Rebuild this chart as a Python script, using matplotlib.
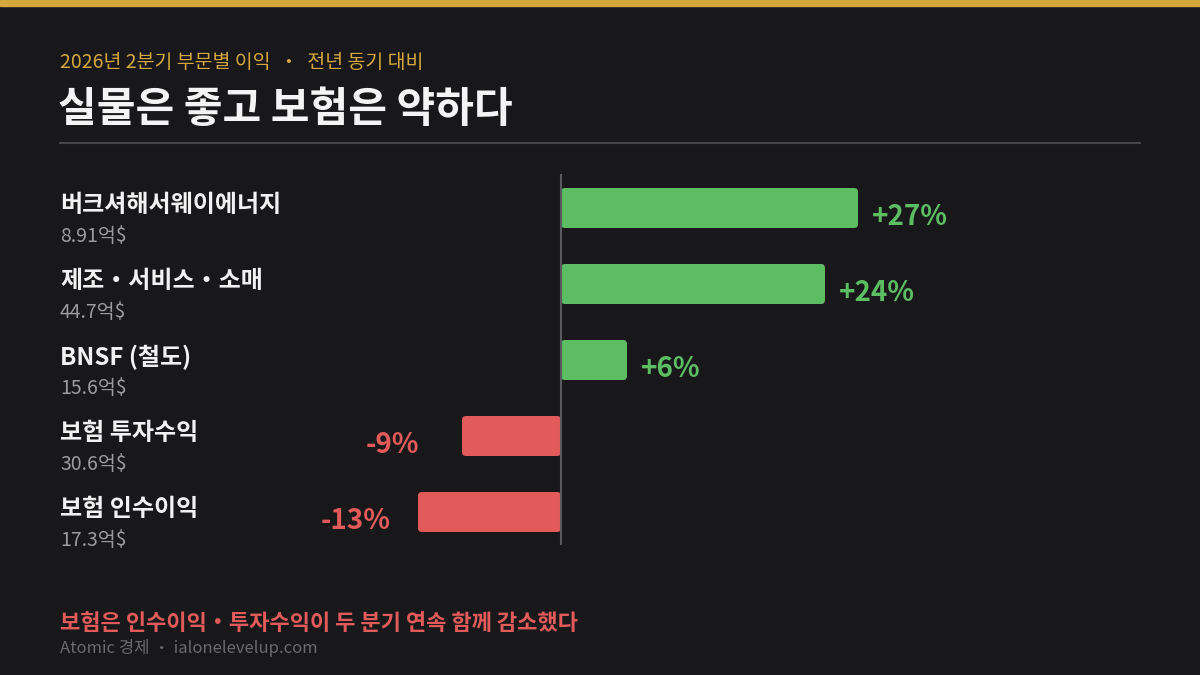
import matplotlib
matplotlib.use("Agg")
import matplotlib.pyplot as plt
from matplotlib.patches import FancyBboxPatch

plt.rcParams['font.family'] = ['Noto Sans CJK KR', 'DejaVu Sans']

# data
segments = ["버크셔해서웨이에너지", "제조・서비스・소매", "BNSF (철도)", "보험 투자수익", "보험 인수이익"]
profits = ["8.91억$", "44.7억$", "15.6억$", "30.6억$", "17.3억$"]
yoy_change = [27, 24, 6, -9, -13]
change_labels = ["+27%", "+24%", "+6%", "-9%", "-13%"]

BG = "#18181b"
GREEN = "#5cbd63"
RED = "#e25b5a"
GOLD = "#d4a83c"

fig = plt.figure(figsize=(12, 6.75), dpi=100, facecolor=BG)

# top gold stripe
fig.patches.append(plt.Rectangle((0, 1 - 6 / 675), 1, 6 / 675, transform=fig.transFigure,
                                 color=GOLD, zorder=0))

# header
fig.text(60 / 1200, 1 - 63 / 675, "2026년 2분기 부문별 이익  ・  전년 동기 대비", color=GOLD,
         fontsize=14, va="center", ha="left")
fig.text(58 / 1200, 1 - 110 / 675, "실물은 좋고 보험은 약하다", color="#f4f4f4",
         fontsize=30.3, fontweight="bold", va="center", ha="left")
fig.add_artist(plt.Line2D([60 / 1200, 1140 / 1200], [1 - 143 / 675, 1 - 143 / 675],
                          transform=fig.transFigure, color="#47474b", lw=1.5))

# axes: 0% at x=561px, 11px per %
ax_l, ax_r, ax_t, ax_b = 300, 1140, 174, 545
ax = fig.add_axes([ax_l / 1200, 1 - ax_b / 675, (ax_r - ax_l) / 1200, (ax_b - ax_t) / 675])
ax.set_facecolor("none")
ax.set_xlim((ax_l - 561) / 11, (ax_r - 561) / 11)
ax.set_ylim((ax_b - 208) / 76, (ax_t - 208) / 76)
ax.axis("off")

ypos = list(range(len(segments)))
colors = [GREEN if v >= 0 else RED for v in yoy_change]
bars = ax.barh(ypos, yoy_change, height=40 / 76, color=colors)

# rounded corners
for b in bars:
    b.set_visible(False)
    w, h = b.get_width(), b.get_height()
    x0 = min(b.get_x(), b.get_x() + w)
    rs = 4 / 11
    fb = FancyBboxPatch((x0, b.get_y()), abs(w), h, boxstyle=f"round,pad=0,rounding_size={rs}",
                        mutation_aspect=(11 / 76), facecolor=b.get_facecolor(),
                        edgecolor="none", zorder=2)
    ax.add_patch(fb)

ax.axvline(0, color="#5a5a5e", lw=1.5, zorder=3)

# left labels
for i, (name, val) in enumerate(zip(segments, profits)):
    ax.annotate(name, xy=(60 / 1200, i), xycoords=("figure fraction", "data"),
                xytext=(0, 3), textcoords="offset pixels", color="#f2f2f2",
                fontsize=17.3, fontweight="bold", va="center", ha="left")
    ax.annotate(val, xy=(60 / 1200, i), xycoords=("figure fraction", "data"),
                xytext=(0, -28), textcoords="offset pixels", color="#9c9c9c",
                fontsize=14, va="center", ha="left")

# change labels
label_gap = [14, 14, 14, 43, 27]
for i, (v, lab, c) in enumerate(zip(yoy_change, change_labels, colors)):
    if v >= 0:
        ax.annotate(lab, xy=(v, i), xytext=(label_gap[i], -9), textcoords="offset pixels",
                    color=c, fontsize=20, fontweight="bold", va="center", ha="left")
    else:
        ax.annotate(lab, xy=(v, i), xytext=(-label_gap[i], -9), textcoords="offset pixels",
                    color=c, fontsize=20, fontweight="bold", va="center", ha="right")

# footer
fig.text(60 / 1200, 1 - 623 / 675, "보험은 인수이익・투자수익이 두 분기 연속 함께 감소했다",
         color=RED, fontsize=15.9, fontweight="bold", va="center", ha="left")
fig.text(60 / 1200, 1 - 648 / 675, "Atomic 경제 ・ ialonelevelup.com", color="#6a6a6e",
         fontsize=12, va="center", ha="left")

fig.savefig("out.png", dpi=100, facecolor=BG)
